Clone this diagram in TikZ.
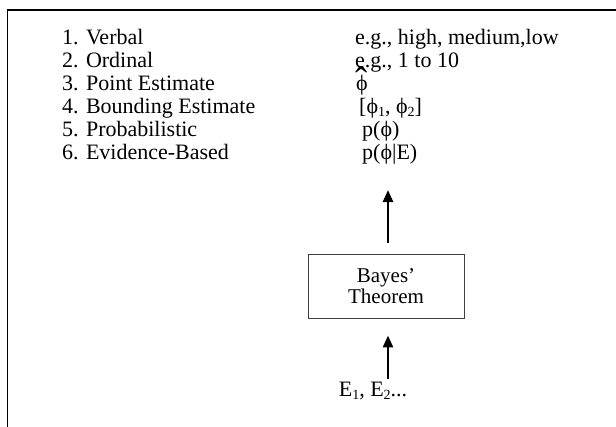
\documentclass[tikz,border=0pt]{standalone}
\usepackage{fontspec}
\setmainfont{Liberation Serif}
\usetikzlibrary{arrows.meta}
\newcommand\lowsub[1]{\raisebox{-0.34ex}{\fontsize{14}{14}\selectfont #1}}
\newcommand\hatphi{\leavevmode\rlap{\hspace{-0.6pt}\raisebox{-0.22em}{\scalebox{1.65}[1.8]{ˆ}}}ϕ}
\tikzset{
  txt/.style={anchor=base west, inner sep=0pt, font=\fontsize{22}{24}\selectfont},
  bayesbox/.style={draw=black!75, line width=0.9pt, minimum width=156pt, minimum height=64pt,
    align=center, inner sep=0pt, font=\fontsize{21}{21.5}\selectfont},
  upflow/.style={line width=2.6pt, -{Triangle[width=10pt,length=12pt]}},
  frameline/.style={line width=1.8pt, line cap=rect}
}
\begin{document}
\begin{tikzpicture}[x=1pt,y=-1pt]
  \useasboundingbox (0,0) rectangle (616,426);
  % open frame: only the top and left edges fall inside the page
  \draw[frameline] (7.5,430) -- (7.5,10) -- (620,10);

  % levels of uncertainty representation
  \node[txt] (l1) at (62,44)  {1. Verbal};
  \node[txt] (l2) at (62,67)  {2. Ordinal};
  \node[txt] (l3) at (62,90)  {3. Point Estimate};
  \node[txt] (l4) at (62,113) {4. Bounding Estimate};
  \node[txt] (l5) at (62,136) {5. Probabilistic};
  \node[txt] (l6) at (62,159) {6. Evidence-Based};

  \node[txt] (r1) at (355,44)  {e.g., high, medium,low};
  \node[txt] (r2) at (355,67)  {e.g., 1 to 10};
  \node[txt] (r3) at (356,90)  {\hatphi};
  \node[txt] (r4) at (359,113) {[ϕ\lowsub{1}, ϕ\lowsub{2}]};
  \node[txt] (r5) at (362,136) {p(ϕ)};
  \node[txt] (r6) at (362,159) {p(ϕ|E)};

  % Bayesian update
  \node[bayesbox] (bayes) at (386,286) {Bayes’\\Theorem};
  \node[txt, anchor=base] (ev) at (373,396) {E\lowsub{1}, E\lowsub{2}...};

  \coordinate (top) at (388,190);
  \draw[upflow] (bayes.north -| top) ++(0,-11) -- (top);
  \draw[upflow] (ev.north -| top) ++(0,-2) -- ([yshift=-17pt]bayes.south -| top);
\end{tikzpicture}
\end{document}
